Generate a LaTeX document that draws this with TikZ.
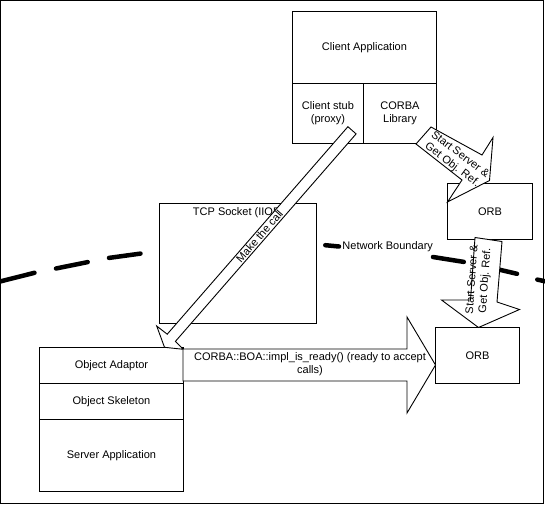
\documentclass[tikz,border=0pt]{standalone}
\usepackage{fontspec}
\setmainfont{Liberation Sans}
\begin{document}
\begin{tikzpicture}[x=1pt,y=-1pt,line width=0.9pt,
  txt/.style={font=\fontsize{11}{13}\selectfont, align=center, inner sep=0pt},
  stxt/.style={font=\fontsize{11}{13}\selectfont, inner sep=0pt},
  box/.style={draw, fill=white, inner sep=0pt, font=\fontsize{11}{13}\selectfont, align=center, anchor=north west},
  blockarrow/.style={draw, fill=white, line join=miter},
  boundary/.style={line width=4.5pt, line cap=round}]
\useasboundingbox (0,0) rectangle (545,505);
\draw (0.5,0.5) rectangle (543.5,503.5);

% network boundary (dashed thick curve)
\draw[boundary] (0,281.5) -- (34.5,272.8)
  (56,268.5) -- (87.7,262.1)
  (109,257.9) -- (140.5,253.6)
  (325.3,245.2) -- (339,246.5)
  (433,257) -- (463.8,261.9)
  (490,267.5) -- (517,273.8)
  (537.3,279.6) -- (546,281.5);
\node[stxt, anchor=base west, fill=white, inner sep=0.5pt] (nb) at (341.5,249.5) {Network Boundary};

% TCP socket box
\node[box, minimum width=157pt, minimum height=120pt] (tcp) at (159,203) {};
\node[stxt, anchor=base] (tcplbl) at (238.5,215.5) {TCP Socket (IIOP)};

% client side
\node[box, minimum width=144pt, minimum height=72pt] (capp) at (292,11) {Client Application};
\node[box, minimum width=71pt, minimum height=60pt] (stub) at (292,83) {Client stub\\(proxy)};
\node[box, minimum width=73pt, minimum height=60pt] (lib) at (363,83) {CORBA\\Library};

% ORBs
\node[box, minimum width=85pt, minimum height=56pt] (orb1) at (447,183) {ORB};
\node[box, minimum width=84pt, minimum height=56pt] (orb2) at (435,327) {ORB};

% server side
\node[box, minimum width=144pt, minimum height=36pt] (adapt) at (39,347) {Object Adaptor};
\node[box, minimum width=144pt, minimum height=36pt] (skel) at (39,383) {Object Skeleton};
\node[box, minimum width=144pt, minimum height=72pt] (sapp) at (39,419) {Server Application};

% Make the call arrow (client stub -> object adaptor)
\draw[blockarrow] (347.9,126.7) -- (356.1,133.9) -- (175.4,341.4) -- (183.3,349.3)
  -- (164.5,347.3) -- (156.7,326) -- (167.2,334.2) -- cycle;
\node[stxt, rotate=48.9] (mkcall) at (259.5,236) {Make the call};

% Start server arrow 1 (CORBA library -> ORB)
\draw[blockarrow] (416,144) -- (431,127) -- (482,155) -- (493,137.5) -- (489.5,180.5)
  -- (447.5,202) -- (462,180) -- cycle;
\node[txt, rotate=-37] (ss1) at (456,160) {Start Server \&\\Get Obj. Ref.};

% Start server arrow 2 (ORB -> ORB)
\draw[blockarrow] (475,237.5) -- (502,241.5) -- (497,302) -- (519.5,309.5) -- (478.5,327.5)
  -- (441.5,300) -- (470.5,300) -- cycle;
\node[txt, rotate=86] (ss2) at (479,280) {Start Server \&\\Get Obj. Ref.};

% impl_is_ready arrow (object adaptor -> ORB)
\draw[blockarrow] (183,349) -- (407,349) -- (407,317) -- (435.5,365) -- (407,413)
  -- (407,381) -- (183,381) -- cycle;
\node[txt] (ready) at (310,364) {CORBA::BOA::impl\_is\_ready() (ready to accept\\calls)};
\end{tikzpicture}
\end{document}
